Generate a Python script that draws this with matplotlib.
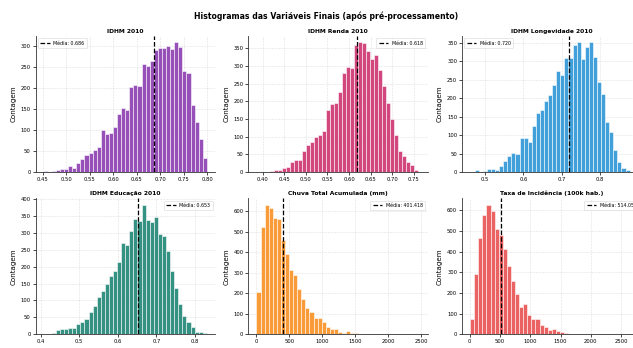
import numpy as np
import matplotlib
matplotlib.use("Agg")
import matplotlib.pyplot as plt

# ---------------- data ----------------
titles = ["IDHM 2010", "IDHM Renda 2010", "IDHM Longevidade 2010",
          "IDHM Educação 2010", "Chuva Total Acumulada (mm)",
          "Taxa de Incidência (100k hab.)"]
colors = ["#9146b4", "#d13d78", "#379bd7", "#2a8b7b", "#f8962d", "#ea5a5a"]

means = [0.686, 0.618, 0.720, 0.653, 401.418, 514.053]

bin_ranges = [(0.4515, 0.7990), (0.3977, 0.7585), (0.4730, 0.8770),
              (0.4077, 0.8310), (0.0, 2480.0), (10.0, 2700.0)]

counts_idhm = [3, 1, 2, 5, 8, 8, 15, 9, 21, 30, 40, 44, 52, 60, 99, 90, 92,
               108, 138, 153, 148, 202, 207, 205, 258, 253, 265, 290, 294,
               295, 300, 293, 308, 297, 241, 235, 159, 120, 79, 34]
counts_renda = [1, 0, 2, 6, 6, 10, 15, 28, 34, 34, 60, 77, 86, 98, 106, 116,
                175, 192, 196, 226, 280, 297, 295, 361, 367, 365, 343, 319,
                332, 289, 244, 196, 151, 104, 59, 44, 27, 19, 7]
counts_longev = [5, 0, 3, 9, 9, 6, 15, 29, 44, 51, 50, 93, 91, 81, 125, 161,
                 167, 192, 209, 236, 275, 263, 309, 309, 344, 351, 306, 338,
                 351, 311, 245, 212, 136, 109, 60, 26, 12, 5]
counts_educ = [1, 2, 4, 12, 15, 17, 19, 20, 31, 36, 46, 66, 84, 109, 127,
               150, 172, 188, 213, 270, 263, 306, 341, 336, 383, 337, 331,
               347, 297, 290, 247, 186, 137, 91, 55, 37, 22, 7, 6, 4]
counts_chuva = [205, 520, 630, 614, 568, 560, 460, 390, 312, 287, 222, 172,
                130, 107, 79, 77, 58, 35, 26, 27, 12, 8, 16, 8, 4, 2, 1, 1,
                0, 1, 0, 0, 1, 0, 0, 0, 0, 0, 0, 1]
counts_taxa = [72, 290, 465, 577, 627, 597, 510, 480, 413, 332, 256, 195,
               134, 147, 92, 73, 76, 44, 36, 20, 28, 17, 9, 5, 3, 3, 2, 2,
               1, 1, 1, 1, 0, 1, 0, 0, 0, 0, 0, 1]
all_counts = [counts_idhm, counts_renda, counts_longev,
              counts_educ, counts_chuva, counts_taxa]

xticks = [[0.45, 0.50, 0.55, 0.60, 0.65, 0.70, 0.75, 0.80],
          [0.40, 0.45, 0.50, 0.55, 0.60, 0.65, 0.70, 0.75],
          [0.5, 0.6, 0.7, 0.8],
          [0.4, 0.5, 0.6, 0.7, 0.8],
          [0, 500, 1000, 1500, 2000, 2500],
          [0, 500, 1000, 1500, 2000, 2500]]
xfmt = ["{:.2f}", "{:.2f}", "{:.1f}", "{:.1f}", "{:.0f}", "{:.0f}"]
# explicit x limits where the reference shows wider margins (None = auto)
xlims = [None, (0.367, 0.782), (0.440, 0.908), None, None, None]
legend_locs = ["upper left", "upper right", "upper left",
               "upper right", "upper right", "upper right"]

# ---------------- figure ----------------
W, H = 633, 348
fig = plt.figure(figsize=(W / 100, H / 100), dpi=100)

col_left = [35.5, 248.3, 462.0]
row_top = [36.0, 198.3]
ax_w, ax_h = 179.5, 136.0

fig.text(326 / W, 1 - 16.5 / H,
         "Histogramas das Variáveis Finais (após pré-processamento)",
         ha="center", va="center", fontsize=5.6, fontweight="bold")

for i in range(6):
    r, c = divmod(i, 3)
    ax = fig.add_axes([col_left[c] / W, 1 - (row_top[r] + ax_h) / H,
                       ax_w / W, ax_h / H])
    counts = all_counts[i]
    lo, hi = bin_ranges[i]
    edges = np.linspace(lo, hi, len(counts) + 1)
    ax.bar(edges[:-1], counts, width=np.diff(edges), align="edge",
           color=colors[i], edgecolor="white", linewidth=0.4, alpha=0.95)
    ax.axvline(means[i], color="black", linestyle="--", linewidth=0.9,
               label=f"Média: {means[i]:.3f}")
    ax.set_title(titles[i], fontsize=4.3, fontweight="bold", pad=2.2)
    ax.set_ylabel("Contagem", fontsize=5.1, labelpad=3)
    ax.set_xticks(xticks[i])
    ax.set_xticklabels([xfmt[i].format(t) for t in xticks[i]])
    if xlims[i] is not None:
        ax.set_xlim(*xlims[i])
    ax.tick_params(labelsize=3.8, length=2, width=0.5, pad=1.5)
    ax.grid(True, linestyle="--", linewidth=0.4, alpha=0.4)
    ax.set_axisbelow(True)
    for s in ["top", "right"]:
        ax.spines[s].set_visible(False)
    for s in ["left", "bottom"]:
        ax.spines[s].set_linewidth(0.6)
        ax.spines[s].set_color("#333333")
    leg = ax.legend(loc=legend_locs[i], fontsize=3.4, frameon=True,
                    handlelength=2, borderpad=0.5, handletextpad=0.8)
    leg.get_frame().set_linewidth(0.4)

fig.savefig("out.png", dpi=100)
